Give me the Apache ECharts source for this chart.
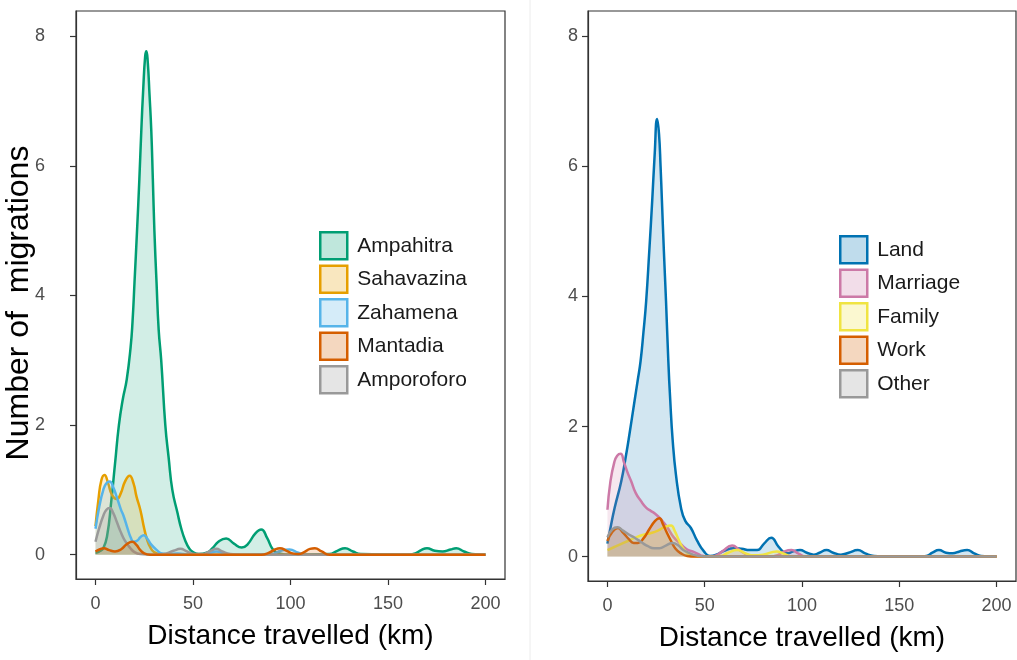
<!DOCTYPE html>
<html>
<head>
<meta charset="utf-8">
<script src="https://cdn.jsdelivr.net/npm/echarts@6/dist/echarts.min.js" type="text/javascript"></script>
<style>
  html, body { margin: 0; padding: 0; background: #fff; }
  #echarts { width: 1017px; height: 660px; }
</style>
</head>
<body>
<div id="echarts"></div>
<script type="text/javascript">
    // tick labels
    var xTicks = [0, 50, 100, 150, 200];
    var yTicks = [0, 2, 4, 6, 8];

    // left panel: by site  ([distance km, density])
    var siteNames = ['Ampahitra', 'Sahavazina', 'Zahamena', 'Mantadia', 'Amporoforo'];
    var ampahitra = [[0,0.03],[2,0.05],[4,0.1],[6,0.3],[8,0.8],[10,1.4],[12,2.0],[14,2.4],[16,2.7],[18,3.2],[19,3.6],[20,4.2],[21.3,5.0],[22.5,5.8],[23.5,6.55],[24.5,7.2],[25.5,7.7],[26.1,7.77],[26.8,7.6],[27.7,7.1],[28.6,6.55],[29.4,5.8],[30.2,5.0],[31.3,4.2],[32.4,3.47],[33.7,3.0],[35.8,2.0],[37.5,1.5],[39.4,1.0],[42,0.65],[44,0.4],[46,0.22],[48,0.1],[50,0.04],[53,0.01],[57,0.03],[60,0.1],[63,0.2],[67,0.25],[71,0.17],[75,0.11],[78,0.16],[82,0.33],[85,0.39],[88,0.26],[91,0.08],[94,0.02],[100,0],[120,0.01],[124,0.06],[128,0.1],[132,0.05],[136,0.01],[160,0],[164,0.02],[167,0.07],[170,0.1],[174,0.06],[178,0.05],[182,0.08],[185,0.1],[189,0.05],[193,0.01],[200,0]];
    var sahavazina = [[0,0.44],[1.5,0.85],[3,1.15],[4.6,1.23],[6.5,1.1],[8.5,0.92],[11,0.86],[13,0.95],[15,1.12],[17.5,1.22],[19.5,1.1],[21,0.9],[23,0.69],[25,0.4],[26.5,0.23],[28,0.12],[30,0.04],[33,0.01],[40,0],[60,0],[200,0]];
    var zahamena = [[0,0.4],[2,0.75],[4,1.0],[5.5,1.1],[7.3,1.13],[9,1.05],[11,0.88],[13,0.7],[14.5,0.59],[16.5,0.4],[18,0.27],[19.6,0.2],[21.5,0.22],[23,0.27],[24.7,0.3],[26.5,0.25],[28.5,0.16],[31.5,0.07],[34,0.02],[38,0.01],[42,0.02],[45,0.01],[50,0],[57,0.01],[62,0.05],[67,0.01],[75,0],[90,0.01],[95,0.06],[99.5,0.08],[104,0.03],[108,0],[200,0]];
    var mantadia = [[0,0.05],[2,0.08],[4.3,0.1],[7,0.07],[10,0.05],[13,0.08],[16,0.16],[18.8,0.2],[21,0.15],[23,0.07],[25,0.02],[28,0],[85,0],[89,0.03],[92,0.08],[94.6,0.1],[98,0.06],[101,0.02],[104,0.01],[107,0.04],[110,0.09],[112.5,0.1],[116,0.05],[120,0],[200,0]];
    var amporoforo = [[0,0.2],[2,0.42],[4,0.6],[5.5,0.69],[7.3,0.72],[9,0.65],[11,0.5],[12.8,0.36],[15,0.22],[17.9,0.1],[20,0.04],[23,0.01],[30,0],[35,0.01],[40,0.06],[43.5,0.09],[47,0.05],[51,0.01],[55,0.01],[59,0.06],[62,0.09],[65,0.05],[69,0.01],[75,0],[200,0]];

    // right panel: by reason
    var reasonNames = ['Land', 'Marriage', 'Family', 'Work', 'Other'];
    var land = [[0,0.2],[1.2,0.39],[3.7,0.75],[7.1,1.16],[9.5,1.55],[11.4,1.9],[13.9,2.39],[15.5,2.7],[17,3.0],[18.5,3.45],[19.9,3.93],[21.5,4.7],[23,5.47],[24.3,6.2],[25.5,6.73],[26.5,6.5],[27.3,6.0],[28,5.47],[29,4.7],[30.1,3.93],[31.3,3.0],[32.3,2.39],[33.5,1.8],[35.2,1.26],[37.8,0.75],[40,0.55],[42.9,0.44],[46,0.25],[49.6,0.08],[52.7,0.01],[56,0.03],[60,0.09],[65,0.13],[69,0.12],[73,0.1],[77,0.1],[80.5,0.2],[84.2,0.29],[88,0.15],[92.2,0.05],[95.5,0.08],[99,0.1],[102.5,0.06],[106,0.03],[109,0.06],[112.6,0.1],[116,0.06],[120,0.03],[124,0.06],[128.7,0.1],[132.5,0.05],[137,0.01],[145,0],[160,0],[164,0.01],[167,0.06],[170.4,0.1],[174,0.06],[177.5,0.05],[181,0.08],[184.9,0.1],[188.5,0.05],[192,0.01],[200,0]];
    var marriage = [[0,0.72],[1.5,1.15],[3.5,1.45],[5,1.55],[6.8,1.58],[8.5,1.45],[10.5,1.28],[12.2,1.16],[14.5,0.98],[17.3,0.85],[20,0.75],[22.4,0.7],[24.5,0.66],[26.7,0.6],[29,0.52],[31,0.44],[34,0.3],[37.8,0.19],[41,0.11],[44.6,0.07],[48,0.02],[51,0],[55,0.01],[59,0.08],[64.1,0.17],[68,0.1],[71.8,0.03],[76,0],[84,0],[88,0.03],[91,0.08],[94.7,0.1],[98,0.05],[102,0],[200,0]];
    var family = [[0,0.1],[3,0.14],[6,0.18],[10.5,0.24],[15,0.3],[19,0.34],[22,0.36],[25.9,0.4],[29,0.45],[32.7,0.48],[34.5,0.4],[36.9,0.24],[39,0.12],[41.2,0.05],[44,0.01],[50,0],[58,0.01],[62,0.06],[66.7,0.1],[71,0.05],[75,0.02],[80,0.03],[87,0.08],[91,0.04],[95,0],[200,0]];
    var work = [[0,0.24],[2.5,0.38],[5.4,0.44],[8,0.37],[11,0.27],[13.5,0.21],[15.7,0.21],[18.5,0.28],[21.5,0.42],[24.5,0.55],[26.7,0.59],[28.5,0.5],[30.5,0.37],[32.7,0.24],[35,0.12],[37.8,0.05],[41,0.01],[45,0],[200,0]];
    var other = [[0,0.3],[2.5,0.42],[5.1,0.45],[8,0.4],[11,0.34],[14,0.29],[17.5,0.22],[20.8,0.16],[24,0.13],[26.7,0.13],[30,0.17],[33.5,0.21],[36.5,0.17],[39,0.1],[41,0.07],[44,0.03],[47,0.01],[52,0],[200,0]];

    var siteColors = ['#009E73', '#E69F00', '#56B4E9', '#D55E00', '#999999'];
    var reasonColors = ['#0072B2', '#CC79A7', '#F0E442', '#D55E00', '#999999'];

    var FONT = 'Liberation Sans, Arial, sans-serif';

    function fade(hex, a) {
        var r = parseInt(hex.slice(1, 3), 16), g = parseInt(hex.slice(3, 5), 16), b = parseInt(hex.slice(5, 7), 16);
        return 'rgba(' + r + ',' + g + ',' + b + ',' + a + ')';
    }

    function density(name, data, color, idx, z) {
        return {
            name: name,
            type: 'line',
            xAxisIndex: idx,
            yAxisIndex: idx,
            data: data,
            smooth: 0.5,
            showSymbol: false,
            z: z,
            lineStyle: { color: color, width: 2.5 },
            itemStyle: { color: color },
            areaStyle: { color: fade(color, 0.25), origin: 0 }
        };
    }

    function legendData(names, colors) {
        return names.map(function (n, i) {
            return { name: n, itemStyle: { color: fade(colors[i], 0.25), borderColor: colors[i], borderWidth: 2.5 } };
        });
    }

    function xAxisOf(idx) {
        return {
            type: 'value', gridIndex: idx, min: -10, max: 210,
            name: 'Distance travelled (km)', nameLocation: 'middle', nameGap: 43,
            nameTextStyle: { fontSize: 28, color: '#000', fontFamily: FONT },
            axisLine: { show: true, onZero: false, lineStyle: { color: '#333', width: 1.2 } },
            axisTick: { show: true, length: 6, customValues: xTicks, lineStyle: { color: '#333', width: 1.2 } },
            axisLabel: { customValues: xTicks, margin: 16, fontSize: 18, color: '#4d4d4d', fontFamily: FONT },
            splitLine: { show: false }
        };
    }

    function yAxisOf(idx, margin, title) {
        return {
            type: 'value', gridIndex: idx, min: -0.375, max: 8.39,
            name: title, nameLocation: 'middle', nameGap: 41, nameMoveOverlap: false,
            nameTextStyle: { fontSize: 32, color: '#000', fontFamily: FONT, padding: [0, 16, 0, 0] },
            axisLine: { show: true, onZero: false, lineStyle: { color: '#333', width: 1.2 } },
            axisTick: { show: true, length: 6, customValues: yTicks, lineStyle: { color: '#333', width: 1.2 } },
            axisLabel: { customValues: yTicks, margin: margin, fontSize: 18, color: '#4d4d4d', fontFamily: FONT },
            splitLine: { show: false }
        };
    }

    var legendBase = {
        orient: 'vertical', icon: 'rect', itemWidth: 27, itemHeight: 27, itemGap: 4,
        selectedMode: false, padding: 0,
        textStyle: { fontSize: 21, lineHeight: 27, color: '#1a1a1a', fontFamily: FONT, padding: [0, 0, 0, 5] }
    };

    option = {
        animation: false,
        backgroundColor: '#fff',
        graphic: [
            { type: 'line', shape: { x1: 530, y1: 0, x2: 530, y2: 660 }, style: { stroke: '#ececec', lineWidth: 1 } }
        ],
        grid: [
            { left: 76, top: 11, width: 429, height: 568, outerBoundsMode: 'none', show: true, borderColor: '#333', borderWidth: 1.2, backgroundColor: 'transparent' },
            { left: 588, top: 11, width: 428, height: 570, outerBoundsMode: 'none', show: true, borderColor: '#333', borderWidth: 1.2, backgroundColor: 'transparent' }
        ],
        xAxis: [xAxisOf(0), xAxisOf(1)],
        yAxis: [yAxisOf(0, 31, 'Number of  migrations'), yAxisOf(1, 10, '')],
        legend: [
            Object.assign({}, legendBase, { left: 319, top: 231, data: legendData(siteNames, siteColors) }),
            Object.assign({}, legendBase, { left: 839, top: 235, data: legendData(reasonNames, reasonColors) })
        ],
        series: [
            density(siteNames[0], ampahitra, siteColors[0], 0, 2),
            density(siteNames[1], sahavazina, siteColors[1], 0, 3),
            density(siteNames[2], zahamena, siteColors[2], 0, 4),
            density(siteNames[4], amporoforo, siteColors[4], 0, 5),
            density(siteNames[3], mantadia, siteColors[3], 0, 6),
            density(reasonNames[0], land, reasonColors[0], 1, 2),
            density(reasonNames[1], marriage, reasonColors[1], 1, 3),
            density(reasonNames[2], family, reasonColors[2], 1, 4),
            density(reasonNames[3], work, reasonColors[3], 1, 5),
            density(reasonNames[4], other, reasonColors[4], 1, 6)
        ]
    };

    var myChart = echarts.init(document.getElementById('echarts'));
    myChart.setOption(option);
</script>
</body>
</html>
